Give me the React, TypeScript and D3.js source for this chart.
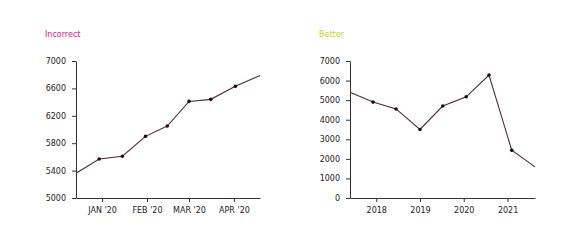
import React, { useEffect, useRef } from 'react'
import * as d3 from 'd3'

// left panel: y axis not starting at zero
const leftDates = ['2019-12-14', '2019-12-30', '2020-01-15', '2020-01-31', '2020-02-15', '2020-03-01', '2020-03-16', '2020-04-02', '2020-04-19']
const leftValues = [5360, 5570, 5610, 5900, 6050, 6410, 6440, 6630, 6790]
const leftYTicks = [5000, 5400, 5800, 6200, 6600, 7000]

// right panel: y axis from zero
const rightDates = ['2017-05-27', '2017-12-05', '2018-06-15', '2019-01-01', '2019-07-10', '2020-01-22', '2020-07-30', '2021-02-05', '2021-08-18']
const rightValues = [5400, 4900, 4550, 3500, 4700, 5170, 6280, 2440, 1590]
const rightYTicks = [0, 1000, 2000, 3000, 4000, 5000, 6000, 7000]

const W = 580
const H = 246
const lineColor = '#4a2b3f'
const font = '"DejaVu Sans", Verdana, sans-serif'

type Panel = {
  title: string
  titleColor: string
  left: number
  right: number
  dates: string[]
  values: number[]
  yTicks: number[]
  xTicks: () => any
  xFormat: (d: Date) => string
}

const panels: Panel[] = [
  {
    title: 'Incorrect',
    titleColor: '#cf1b86',
    left: 76,
    right: 260,
    dates: leftDates,
    values: leftValues,
    yTicks: leftYTicks,
    xTicks: () => d3.timeMonth.every(1),
    xFormat: d => d3.timeFormat("%b '%y")(d).toUpperCase()
  },
  {
    title: 'Better',
    titleColor: '#c6d52c',
    left: 350,
    right: 535,
    dates: rightDates,
    values: rightValues,
    yTicks: rightYTicks,
    xTicks: () => d3.timeYear.every(1),
    xFormat: d => d3.timeFormat('%Y')(d)
  }
]

export default function App() {
  const ref = useRef<SVGSVGElement>(null)

  useEffect(() => {
    const svg = d3.select(ref.current)
    svg.selectAll('*').remove()
    const top = 61
    const bottom = 198
    const parse = d3.timeParse('%Y-%m-%d')

    panels.forEach(p => {
      const data = p.dates.map((d, i) => ({ date: parse(d) as Date, value: p.values[i] }))
      const x = d3.scaleTime()
        .domain(d3.extent(data, d => d.date) as [Date, Date])
        .range([p.left, p.right])
      const y = d3.scaleLinear()
        .domain([p.yTicks[0], p.yTicks[p.yTicks.length - 1]])
        .range([bottom, top])

      const g = svg.append('g')

      g.append('text')
        .attr('x', p.left - 31)
        .attr('y', 37)
        .attr('fill', p.titleColor)
        .style('font-family', font)
        .style('font-size', '8px')
        .text(p.title)

      const xAxis = g.append('g')
        .attr('transform', `translate(0,${bottom})`)
        .call(d3.axisBottom(x).ticks(p.xTicks()).tickFormat(p.xFormat as any).tickSize(4).tickSizeOuter(0).tickPadding(5))
      const yAxis = g.append('g')
        .attr('transform', `translate(${p.left},0)`)
        .call(d3.axisLeft(y).tickValues(p.yTicks).tickFormat(d3.format('d')).tickSize(4).tickSizeOuter(0).tickPadding(6))

      ;[xAxis, yAxis].forEach(a => {
        a.selectAll('text').style('font-family', font).style('font-size', '8px').attr('fill', '#222')
        a.selectAll('line').attr('stroke', '#333')
        a.select('.domain').attr('stroke', '#333')
      })

      const ln = d3.line<{ date: Date, value: number }>()
        .x(d => x(d.date))
        .y(d => y(d.value))

      g.append('path')
        .datum(data)
        .attr('d', ln)
        .attr('fill', 'none')
        .attr('stroke', lineColor)
        .attr('stroke-width', 1.1)

      // first and last points sit on the plot edge, no marker there
      g.selectAll('circle')
        .data(data.slice(1, -1))
        .enter().append('circle')
        .attr('cx', d => x(d.date))
        .attr('cy', d => y(d.value))
        .attr('r', 1.8)
        .attr('fill', '#1c0d17')
    })
  }, [])

  return (
    <svg ref={ref} width={W} height={H} style={{ position: 'absolute', left: 0, top: 0, background: '#fff' }}></svg>
  )
}
